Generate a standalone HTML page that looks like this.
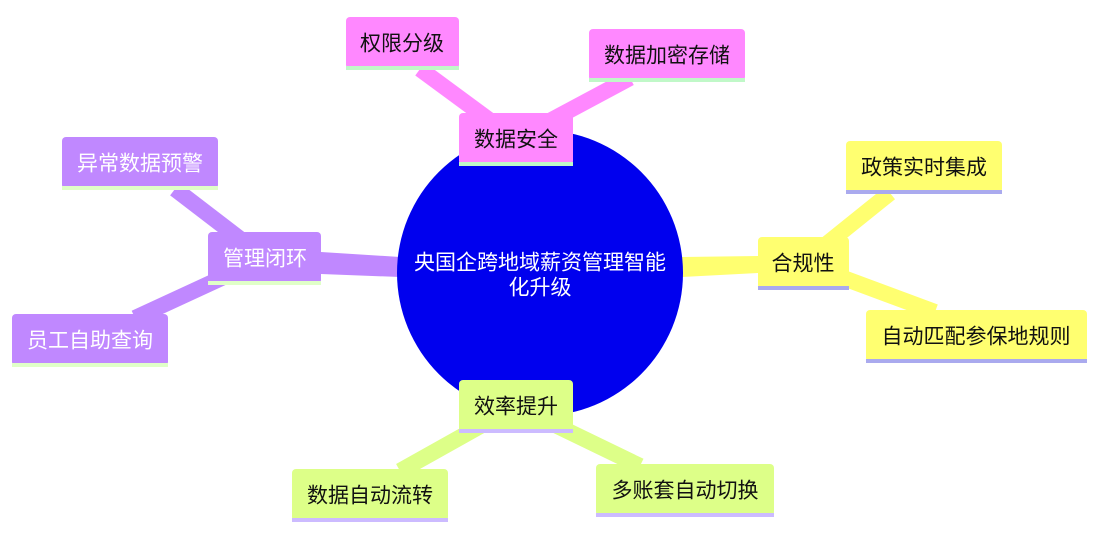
<!DOCTYPE html>
<html><head><meta charset="utf-8"><style>
body{margin:0;background:#fff;width:1105px;height:534px;overflow:hidden}
svg text{font-family:"Liberation Sans","Noto Sans CJK SC",sans-serif;font-size:21px;text-anchor:middle;dominant-baseline:central}
</style></head><body>
<svg width="1105" height="534" viewBox="0 0 1105 534">
<g stroke-linecap="butt">
<line x1="515" y1="139" x2="420" y2="69" stroke="#ff88ff" stroke-width="16"/>
<line x1="516" y1="139" x2="630" y2="78" stroke="#ff88ff" stroke-width="16"/>
<line x1="540" y1="200" x2="516" y2="139" stroke="#ff88ff" stroke-width="16"/>
<line x1="265" y1="258" x2="175" y2="189" stroke="#c088ff" stroke-width="16"/>
<line x1="265" y1="258" x2="135" y2="318" stroke="#c088ff" stroke-width="16"/>
<polygon points="400,257 400,277 321,274 321,252" fill="#c088ff"/>
<line x1="803" y1="263" x2="890" y2="193" stroke="#ffff70" stroke-width="16"/>
<line x1="803" y1="263" x2="935" y2="312" stroke="#ffff70" stroke-width="16"/>
<polygon points="682,257 682,277 758,273 758,256" fill="#ffff70"/>
<line x1="516" y1="406" x2="400" y2="471" stroke="#ddff88" stroke-width="16"/>
<line x1="516" y1="406" x2="640" y2="466" stroke="#ddff88" stroke-width="16"/>
</g>
<circle cx="540" cy="273" r="143" fill="#0000ee"/>
<text x="540" y="263" fill="#fff" font-size="19">央国企跨地域薪资管理智能</text>
<text x="540" y="288" fill="#fff" font-size="19">化升级</text>
<g>
<rect x="346" y="17" width="113" height="52" rx="4" fill="#ff88ff"/><rect x="346" y="66" width="113" height="4" fill="#c0f8c8"/>
<text x="402" y="44" fill="#111">权限分级</text>
<rect x="589" y="29" width="156" height="52" rx="4" fill="#ff88ff"/><rect x="589" y="78" width="156" height="4" fill="#c0f8c8"/>
<text x="667" y="56" fill="#111">数据加密存储</text>
<rect x="459" y="113" width="114" height="52" rx="4" fill="#ff88ff"/><rect x="459" y="162" width="114" height="4" fill="#c0f8c8"/>
<text x="516" y="140" fill="#111">数据安全</text>

<rect x="62" y="137" width="156" height="52" rx="4" fill="#c088ff"/><rect x="62" y="186" width="156" height="4" fill="#e0ffc8"/>
<text x="140" y="164" fill="#fff">异常数据预警</text>
<rect x="208" y="232" width="113" height="52" rx="4" fill="#c088ff"/><rect x="208" y="281" width="113" height="4" fill="#e0ffc8"/>
<text x="265" y="259" fill="#fff">管理闭环</text>
<rect x="12" y="314" width="156" height="52" rx="4" fill="#c088ff"/><rect x="12" y="363" width="156" height="4" fill="#e0ffc8"/>
<text x="90" y="341" fill="#fff">员工自助查询</text>

<rect x="846" y="141" width="156" height="52" rx="4" fill="#ffff70"/><rect x="846" y="190" width="156" height="4" fill="#aaaaee"/>
<text x="924" y="168" fill="#111">政策实时集成</text>
<rect x="758" y="237" width="91" height="52" rx="4" fill="#ffff70"/><rect x="758" y="286" width="91" height="4" fill="#aaaaee"/>
<text x="803" y="264" fill="#111">合规性</text>
<rect x="866" y="310" width="221" height="52" rx="4" fill="#ffff70"/><rect x="866" y="359" width="221" height="4" fill="#aaaaee"/>
<text x="976" y="337" fill="#111">自动匹配参保地规则</text>

<rect x="459" y="380" width="114" height="52" rx="4" fill="#ddff88"/><rect x="459" y="429" width="114" height="4" fill="#ccbbff"/>
<text x="516" y="407" fill="#111">效率提升</text>
<rect x="292" y="469" width="156" height="52" rx="4" fill="#ddff88"/><rect x="292" y="518" width="156" height="4" fill="#ccbbff"/>
<text x="370" y="496" fill="#111">数据自动流转</text>
<rect x="596" y="464" width="178" height="52" rx="4" fill="#ddff88"/><rect x="596" y="513" width="178" height="4" fill="#ccbbff"/>
<text x="685" y="491" fill="#111">多账套自动切换</text>
</g>
</svg>
</body></html>
